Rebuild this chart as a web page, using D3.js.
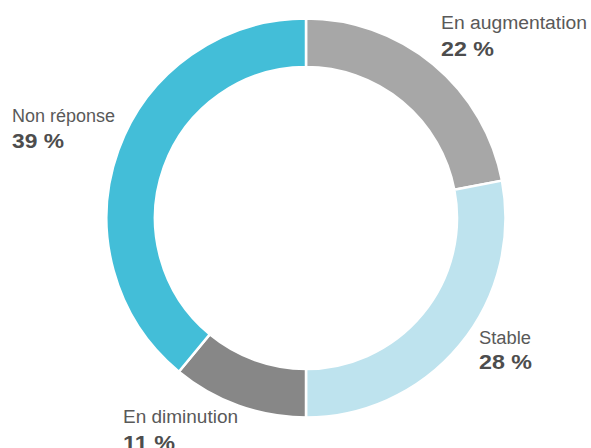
<!DOCTYPE html>
<html><head><meta charset="utf-8">
<script src="https://cdn.jsdelivr.net/npm/d3@7"></script>
<style>html,body{margin:0;padding:0;background:#fff;overflow:hidden}</style>
</head><body>
<svg id="c" width="591" height="448"></svg>
<script>
const categories = ["En augmentation", "Stable", "En diminution", "Non réponse"];
const values = [22, 28, 11, 39];
const valueLabels = ["22 %", "28 %", "11 %", "39 %"];
const colors = ["#a7a7a7", "#bee3ee", "#878787", "#43bed8"];

const svg = d3.select("#c");
const cx = 306, cy = 218, R = 199.5, r = 151;
const g = svg.append("g").attr("transform", `translate(${cx},${cy})`);
const pie = d3.pie().sort(null).value(d => d)(values);
const arc = d3.arc().innerRadius(r).outerRadius(R);
g.selectAll("path").data(pie).join("path")
  .attr("d", arc)
  .attr("fill", (d, i) => colors[i])
  .attr("stroke", "#fff").attr("stroke-width", 2.5);

// label layout (x, name baseline, value baseline, name width, value width)
const layout = [
  {x: 441, y1: 29, y2: 56, w1: 146, w2: 53},
  {x: 479, y1: 344, y2: 369, w1: 52, w2: 53},
  {x: 123, y1: 423, y2: 450, w1: 115, w2: 52},
  {x: 12, y1: 122, y2: 148, w1: 103, w2: 52}
];
const lab = svg.append("g").style("font-family", "'Liberation Sans', Arial, sans-serif");
categories.forEach((c, i) => {
  const L = layout[i];
  lab.append("text").attr("x", L.x).attr("y", L.y1)
    .attr("font-size", 18).attr("fill", "#595959")
    .attr("textLength", L.w1).attr("lengthAdjust", "spacingAndGlyphs")
    .text(c);
  lab.append("text").attr("x", L.x).attr("y", L.y2)
    .attr("font-size", 21).attr("font-weight", "bold").attr("fill", "#4d4d4d")
    .attr("textLength", L.w2).attr("lengthAdjust", "spacingAndGlyphs")
    .text(valueLabels[i]);
});
</script>
</body></html>
